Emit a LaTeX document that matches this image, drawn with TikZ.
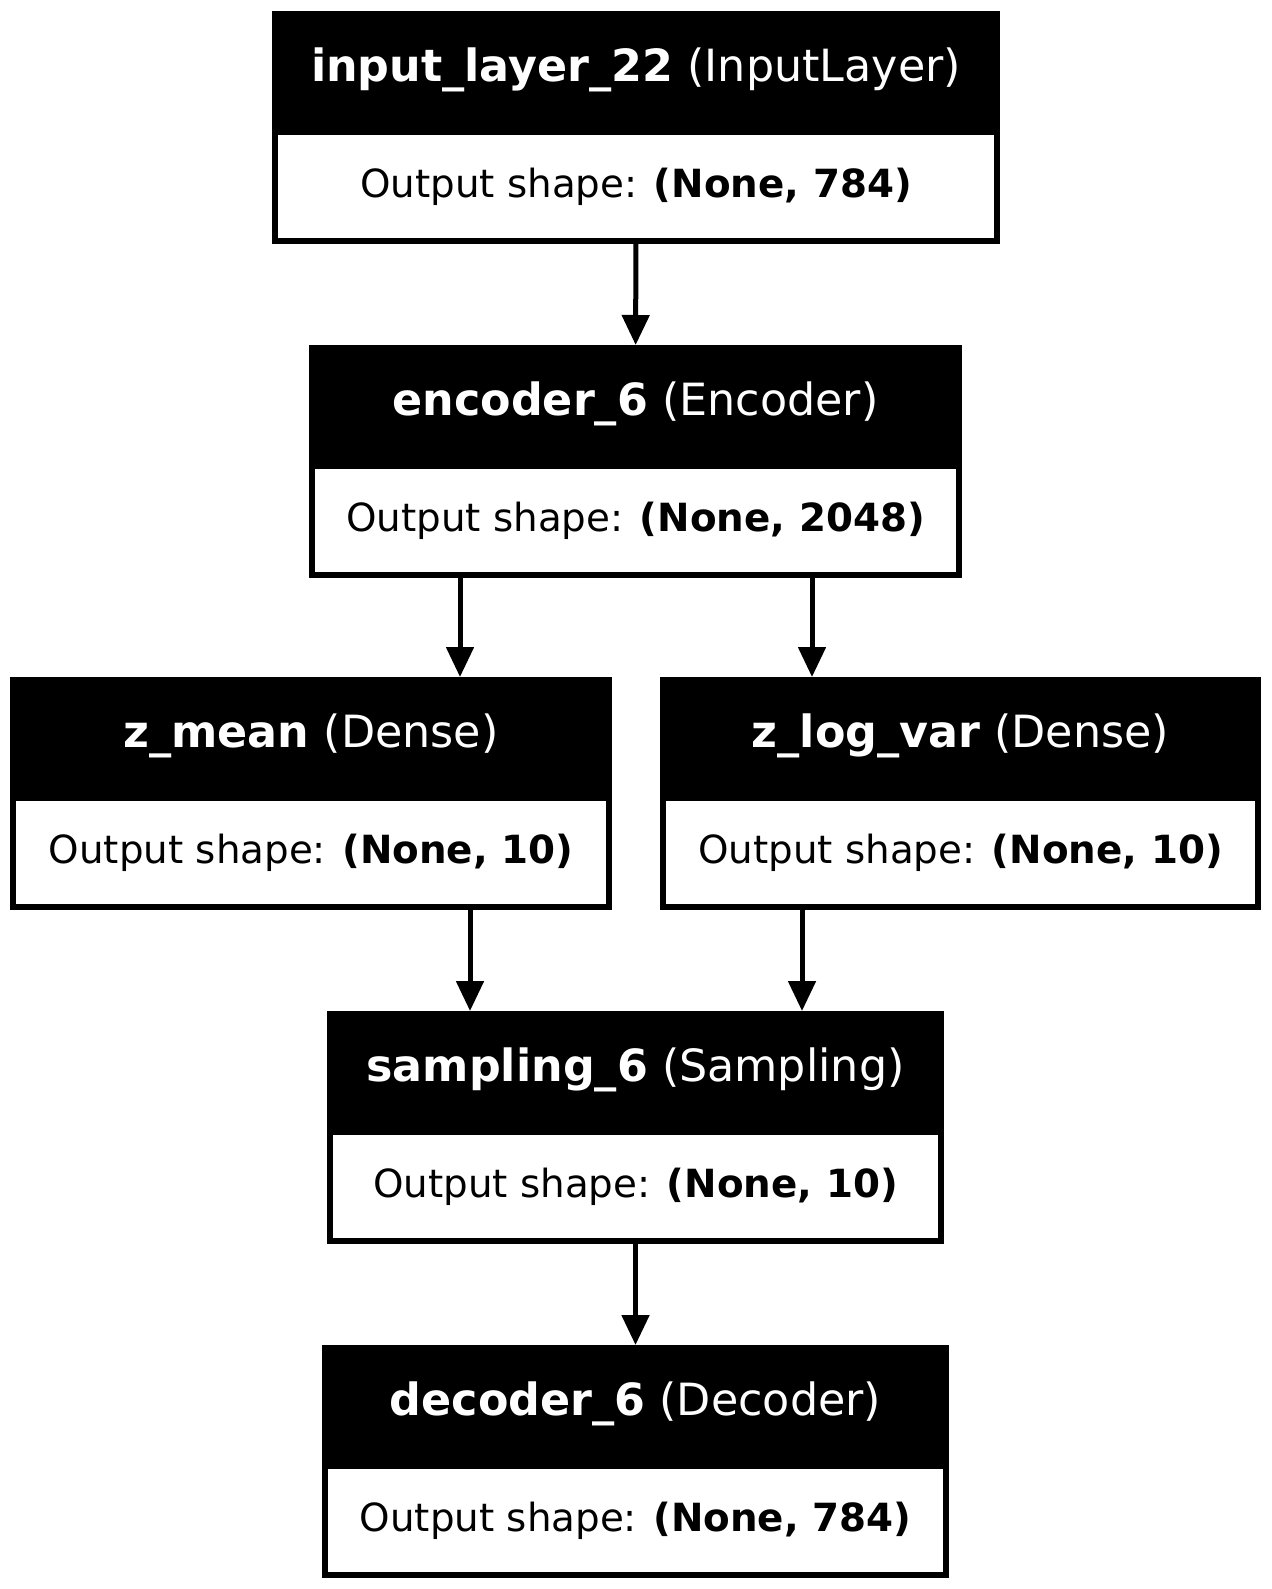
\documentclass[tikz,border=0pt]{standalone}
\usepackage{fontspec}
\setmainfont{DejaVu Sans}
\usetikzlibrary{positioning,arrows.meta}

\tikzset{
    layerhead/.style={fill=black, text=white, minimum height=59pt, outer sep=0pt, inner sep=0pt,
        font=\fontsize{22.2}{26}\selectfont, anchor=north},
    layerbody/.style={fill=white, draw=black, line width=3pt, minimum height=54.5pt, inner sep=0pt,
        font=\fontsize{19.4}{23}\selectfont},
    arr/.style={line width=2.5pt, -{Triangle[length=15pt, width=13.5pt]}}
}

\begin{document}
\begin{tikzpicture}[x=0.5pt, y=-0.5pt]
            \useasboundingbox (0,0) rectangle (1272,1589);

            \node[layerhead, minimum width=364pt] (inp) at(636,11) {\textbf{input\_layer\_22} (InputLayer)};
            \node[layerbody, minimum width=361pt, below=0pt of inp] (inpOut) {Output shape: \textbf{(None, 784)}};

            \node[layerhead, minimum width=326.5pt] (enc) at(635.5,345) {\textbf{encoder\_6} (Encoder)};
            \node[layerbody, minimum width=323.5pt, below=0pt of enc] (encOut) {Output shape: \textbf{(None, 2048)}};

            \node[layerhead, minimum width=301pt] (zm) at(311,677) {\textbf{z\_mean} (Dense)};
            \node[layerbody, minimum width=298pt, below=0pt of zm] (zmOut) {Output shape: \textbf{(None, 10)}};

            \node[layerhead, minimum width=300.5pt] (zlv) at(960.5,677) {\textbf{z\_log\_var} (Dense)};
            \node[layerbody, minimum width=297.5pt, below=0pt of zlv] (zlvOut) {Output shape: \textbf{(None, 10)}};

            \node[layerhead, minimum width=308.5pt] (samp) at(635.5,1011) {\textbf{sampling\_6} (Sampling)};
            \node[layerbody, minimum width=305.5pt, below=0pt of samp] (sampOut) {Output shape: \textbf{(None, 10)}};

            \node[layerhead, minimum width=313.5pt] (dec) at(635.5,1345) {\textbf{decoder\_6} (Decoder)};
            \node[layerbody, minimum width=310.5pt, below=0pt of dec] (decOut) {Output shape: \textbf{(None, 784)}};

            \draw[arr] (inpOut) -- (enc);
            \draw[arr] ([xshift=-87.75pt]encOut.south) -- ([xshift=74.5pt]zm.north);
            \draw[arr] ([xshift=88.25pt]encOut.south) -- ([xshift=-74.25pt]zlv.north);
            \draw[arr] ([xshift=79.5pt]zmOut.south) -- ([xshift=-82.75pt]samp.north);
            \draw[arr] ([xshift=-79.25pt]zlvOut.south) -- ([xshift=83.25pt]samp.north);
            \draw[arr] (sampOut) -- (dec);

        \end{tikzpicture}
\end{document}
